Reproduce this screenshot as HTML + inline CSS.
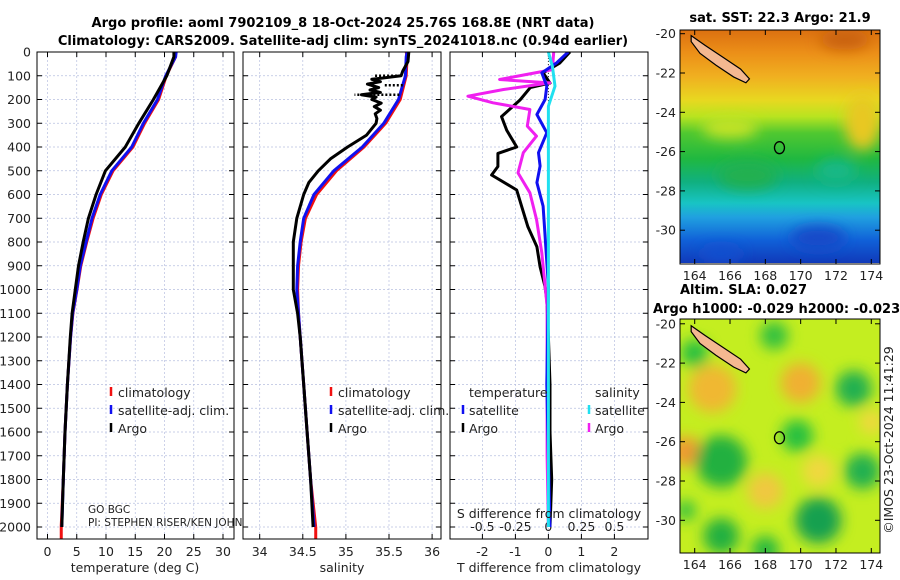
<!DOCTYPE html>
<html><head><meta charset="utf-8"><style>
body{margin:0;background:#fff;}
svg{display:block;font-family:"DejaVu Sans","Liberation Sans",sans-serif;}
.t{font-size:12.5px;fill:#222;}
.b{font-size:13px;font-weight:bold;fill:#000;}
</style></head><body>
<svg id="c" width="900" height="580" viewBox="0 0 900 580">
<defs>
<linearGradient id="sstg" x1="0" y1="0" x2="0" y2="1">
<stop offset="0" stop-color="#dc7010"/><stop offset="0.1" stop-color="#ec9018"/>
<stop offset="0.2" stop-color="#f0b020"/><stop offset="0.3" stop-color="#e8d820"/>
<stop offset="0.37" stop-color="#b8e420"/><stop offset="0.44" stop-color="#50c830"/>
<stop offset="0.55" stop-color="#20b840"/><stop offset="0.65" stop-color="#10b080"/>
<stop offset="0.74" stop-color="#18c4c4"/><stop offset="0.8" stop-color="#20a0e0"/>
<stop offset="0.9" stop-color="#1060d8"/><stop offset="1" stop-color="#1038b8"/></linearGradient>
<filter id="bl"><feGaussianBlur stdDeviation="7"/></filter>
<clipPath id="cm1"><rect x="680" y="30" width="200" height="233"/></clipPath>
<clipPath id="cm2"><rect x="680" y="319" width="200" height="234"/></clipPath>
<clipPath id="cp1"><rect x="37" y="52" width="197" height="487"/></clipPath>
<clipPath id="cp2"><rect x="243" y="52" width="198" height="487"/></clipPath>
<clipPath id="cp3"><rect x="450" y="52" width="198" height="487"/></clipPath>
</defs>
<text class="b" x="343" y="27" text-anchor="middle">Argo profile: aoml 7902109_8 18-Oct-2024 25.76S 168.8E (NRT data)</text>
<text class="b" x="343" y="45" text-anchor="middle">Climatology: CARS2009. Satellite-adj clim: synTS_20241018.nc (0.94d earlier)</text>
<g id="g"></g>
<text class="t" x="893" y="440" transform="rotate(-90 893 440)" text-anchor="middle">©IMOS 23-Oct-2024 11:41:29</text>
</svg>
<script>
const depths=[0,20,100,200,300,400,500,600,700,800,900,1000,1100,1200,1400,1600,1800,2000];
const tempArgo=[21.6,21.6,20.4,18.1,15.6,13.3,9.9,8.3,7.0,6.1,5.3,4.75,4.2,3.9,3.4,3.0,2.7,2.45];
const tempClim=[21.8,21.9,20.3,19.0,16.6,14.6,11.2,9.2,7.8,6.7,5.7,5.05,4.35,3.95,3.4,3.0,2.7,2.35];
const tempSat=[22.0,21.9,20.2,18.8,16.4,14.4,11.0,9.0,7.6,6.6,5.6,5.0,4.3,3.95,3.4,3.0,2.7,2.45];
const salClim=[35.70,35.71,35.70,35.63,35.46,35.21,34.89,34.66,34.53,34.48,34.45,34.44,34.45,34.47,34.51,34.55,34.59,34.65];
const salSat=[35.71,35.70,35.69,35.61,35.44,35.19,34.86,34.63,34.51,34.47,34.44,34.43,34.45,34.47,34.51,34.55,34.59,34.63];
const salArgoDepths=[0,40,80,100,115,125,135,150,160,170,180,190,200,215,230,245,260,280,300,350,400,450,500,550,600,700,800,900,1000,1100,1200,1400,1600,1800,2000];
const salArgo=[35.73,35.72,35.66,35.64,35.30,35.40,35.25,35.38,35.28,35.40,35.18,35.35,35.30,35.41,35.33,35.40,35.34,35.36,35.35,35.24,35.02,34.82,34.68,34.57,34.51,34.43,34.39,34.39,34.39,34.44,34.47,34.51,34.55,34.59,34.62];
const tdArgoDepths=[0,46,88,131,150,202,272,330,400,427,482,518,581,651,736,820,905,989,1044,1200,1400,1600,1800,2000];
const tDiffArgo=[0.65,0.35,-0.16,0.05,-0.55,-0.86,-1.42,-1.26,-0.96,-1.53,-1.53,-1.72,-0.96,-0.81,-0.62,-0.35,-0.25,-0.1,-0.05,0.0,0.05,0.05,0.1,0.05];
const sdArgoDepths=[0,74,116,130,158,186,214,242,312,354,424,509,593,705,845,1070,1400,1700,2000];
const sDiffArgo=[0.04,0.03,-0.37,0.01,-0.34,-0.61,-0.42,-0.14,-0.16,-0.09,-0.19,-0.23,-0.14,-0.09,-0.05,-0.01,-0.01,-0.01,0.0];
const tdSatDepths=[0,46,88,144,200,263,340,424,480,550,649,775,986,1400,2000];
const tDiffSat=[0.6,0.25,-0.2,-0.05,-0.1,-0.35,-0.05,-0.3,-0.25,-0.35,-0.16,-0.1,0.0,-0.05,0.05];
const sdSatDepths=[0,60,144,228,424,800,1400,2000];
const sDiffSat=[0.0,0.03,0.05,0.0,0.0,0.0,0.0,0.0];
const depthTicks=[0,100,200,300,400,500,600,700,800,900,1000,1100,1200,1300,1400,1500,1600,1700,1800,1900,2000];
const tempTicks=[0,5,10,15,20,25,30];
const salTicks=[34,34.5,35,35.5,36];
const tdTicks=[-2,-1,0,1,2];
const sdTicks=[-0.5,-0.25,0,0.25,0.5];
const sdLabels=["-0.5","-0.25","0","0.25","0.5"];
const lonTicks=[164,166,168,170,172,174];
const latTicks=[-20,-22,-24,-26,-28,-30];

const NS='http://www.w3.org/2000/svg';
const G=document.getElementById('g');
function mk(tag,at,par){const e=document.createElementNS(NS,tag);for(const k in at)e.setAttribute(k,at[k]);(par||G).appendChild(e);return e;}
const Y=d=>52+d*0.2375;
const xT=t=>47.5+t*5.85;
const xS=s=>259.7+(s-34)*86.2;
const xTD=v=>548.4+v*33;
const xSD=v=>548.4+v*132;
const P=[{x:37,w:197},{x:243,w:198},{x:450,w:198}];

P.forEach((p,i)=>{
  depthTicks.forEach(d=>{
    const l=mk('line',{x1:p.x,x2:p.x+p.w,y1:Y(d),y2:Y(d),stroke:'#b8c0e0','stroke-width':0.7,'stroke-dasharray':'2,2'});
    
    
    mk('line',{x1:p.x,x2:p.x+5,y1:Y(d),y2:Y(d),stroke:'#000'});
    mk('line',{x1:p.x+p.w-5,x2:p.x+p.w,y1:Y(d),y2:Y(d),stroke:'#000'});
  });
});
depthTicks.forEach(d=>{
  const t=mk('text',{x:31,y:Y(d)+4.5,'text-anchor':'end',class:'t'});t.textContent=d;
  
  
});
function xgrid(ticks,fx,p,labels,ly){
  ticks.forEach((v,i)=>{
    const x=fx(v);
    const l=mk('line',{x1:x,x2:x,y1:52,y2:539,stroke:'#b8c0e0','stroke-width':0.7,'stroke-dasharray':'2,2'});
    
    
    mk('line',{x1:x,x2:x,y1:534,y2:539,stroke:'#000'});
    mk('line',{x1:x,x2:x,y1:52,y2:57,stroke:'#000'});
    const t=mk('text',{x:x,y:ly,'text-anchor':'middle',class:'t'});t.textContent=labels?labels[i]:v;
    
    
  });
}
xgrid(tempTicks,xT,P[0],null,556);
xgrid(salTicks,xS,P[1],null,556);
xgrid(tdTicks,xTD,P[2],null,556);
sdTicks.forEach((v,i)=>{
  const t=mk('text',{x:xSD(v),y:531,'text-anchor':'middle',class:'t'});t.textContent=sdLabels[i];
  
  
});
mk('line',{x1:xTD(0),x2:xTD(0),y1:Y(0),y2:Y(1000),stroke:'#333','stroke-width':1,'stroke-dasharray':'1,2'});

function line(dep,vals,fx,col,w,clip,name,dash){
  const pts=vals.map((v,i)=>fx(v).toFixed(1)+','+Y(dep[i]).toFixed(1)).join(' ');
  const at={points:pts,fill:'none',stroke:col,'stroke-width':w,'clip-path':'url(#'+clip+')','stroke-linejoin':'round'};
  if(dash)at['stroke-dasharray']=dash;
  const e=mk('polyline',at);
  
  
}
line(depths,tempClim,xT,'#f01010',3,'cp1','temp-climatology-line');
line(depths,tempSat,xT,'#1010f0',3,'cp1','temp-satellite-line');
line(depths,tempArgo,xT,'#000',3,'cp1','temp-argo-line');
line(depths,salClim,xS,'#f01010',3,'cp2','sal-climatology-line');
line(depths,salSat,xS,'#1010f0',3,'cp2','sal-satellite-line');
line(salArgoDepths,salArgo,xS,'#000',3,'cp2','sal-argo-line');
// dotted connectors for flagged salinity spikes
[[100,35.64,35.32],[140,35.66,35.45],[180,35.62,35.10]].forEach(s=>{
  const e=mk('line',{x1:xS(s[1]),x2:xS(s[2]),y1:Y(s[0]),y2:Y(s[0]),stroke:'#000','stroke-width':2.5,'stroke-dasharray':'2,2'});
  
  
});
line(tdArgoDepths,tDiffArgo,xTD,'#000',3,'cp3','tdiff-argo-line');
line(sdArgoDepths,sDiffArgo,xSD,'#f020f0',3,'cp3','sdiff-argo-line');
line(tdSatDepths,tDiffSat,xTD,'#1010f0',3,'cp3','tdiff-satellite-line');
line(sdSatDepths,sDiffSat,xSD,'#20e0f0',3,'cp3','sdiff-satellite-line');
mk('line',{x1:xT(2.35),x2:xT(2.35),y1:Y(2000),y2:539,stroke:'#f01010','stroke-width':3});
mk('line',{x1:xS(34.65),x2:xS(34.65),y1:Y(2000),y2:539,stroke:'#f01010','stroke-width':3});

P.forEach(p=>{const r=mk('rect',{x:p.x,y:52,width:p.w,height:487,fill:'none',stroke:'#000','stroke-width':1});
  });

function lab(x,y,s,anchor,name){const t=mk('text',{x:x,y:y,class:'t','text-anchor':anchor||'start'});t.textContent=s;
  return t;}
lab(135,572,'temperature (deg C)','middle','temp-axis-title');
lab(342,572,'salinity','middle','salinity-axis-title');
lab(549,572,'T difference from climatology','middle','tdiff-axis-title');
lab(549,518,'S difference from climatology','middle','sdiff-axis-title');
const g1=lab(88,513,'GO BGC','start','program-label');g1.style.fontSize='10.5px';
const g2=lab(88,526,'PI: STEPHEN RISER/KEN JOHN','start','pi-label');g2.style.fontSize='10.5px';

function leg(mx,tx,y,col,s,name){
  mk('line',{x1:mx,x2:mx,y1:y-6,y2:y+3,stroke:col,'stroke-width':2.5});
  lab(tx,y+4,s,'start',name);
}
leg(111,118,393,'#f01010','climatology','legend-climatology');
leg(111,118,411,'#1010f0','satellite-adj. clim.','legend-satellite');
leg(111,118,429,'#000','Argo','legend-argo');
leg(331,338,393,'#f01010','climatology','legend-sal-climatology');
leg(331,338,411,'#1010f0','satellite-adj. clim.','legend-sal-satellite');
leg(331,338,429,'#000','Argo','legend-sal-argo');
lab(469,397,'temperature','start','legend-temperature-header');
leg(463,469,411,'#1010f0','satellite','legend-tdiff-satellite');
leg(463,469,429,'#000','Argo','legend-tdiff-argo');
lab(595,397,'salinity','start','legend-salinity-header');
leg(589,595,411,'#20e0f0','satellite','legend-sdiff-satellite');
leg(589,595,429,'#f020f0','Argo','legend-sdiff-argo');

const mX=lon=>694.7+(lon-164)*17.66;
function map(top,latOff,clip,kind){
  const mY=lat=>latOff+(-20-lat)*19.65;
  const grp=mk('g',{'clip-path':'url(#'+clip+')'});
  
  
  if(kind==='sst'){
    mk('rect',{x:680,y:top,width:200,height:234,fill:'url(#sstg)'},grp);
    const bg=mk('g',{filter:'url(#bl)'},grp);
    mk('ellipse',{cx:mX(173.5),cy:mY(-24.5),rx:18,ry:28,fill:'#e8c820'},bg);
    mk('ellipse',{cx:mX(166),cy:mY(-24.8),rx:28,ry:10,fill:'#c8e428'},bg);
    mk('ellipse',{cx:mX(167),cy:mY(-27.2),rx:30,ry:14,fill:'#20b050'},bg);
    mk('ellipse',{cx:mX(172),cy:mY(-27.0),rx:20,ry:12,fill:'#18b888'},bg);
    mk('ellipse',{cx:mX(171),cy:mY(-30.4),rx:28,ry:12,fill:'#1848c8'},bg);
    mk('ellipse',{cx:mX(165.5),cy:mY(-31.2),rx:22,ry:8,fill:'#1850d0'},bg);
    mk('ellipse',{cx:mX(172.5),cy:mY(-20.3),rx:25,ry:10,fill:'#c86010'},bg);
  } else {
    mk('rect',{x:680,y:top,width:200,height:234,fill:'#c4ee20'},grp);
    const bg=mk('g',{filter:'url(#bl)'},grp);
    [[165,-23.3,'#f0b830',24],[170,-23,'#f0b030',20],[163.5,-26.5,'#f09830',15],[168,-28.5,'#f0c840',18],[171,-27.5,'#f0d840',16],[174,-25,'#f0d840',12]].forEach(b=>mk('circle',{cx:mX(b[0]),cy:mY(b[1]),r:b[3],fill:b[2]},bg));
    [[165.5,-27,'#20b040',26],[173,-23.3,'#20b050',18],[173.5,-27.5,'#20b050',18],[171,-30,'#18a050',23],[165.5,-30.8,'#20b040',18],[169.8,-25.7,'#28c040',16],[164,-21.5,'#28c040',14],[168.5,-20.6,'#30c040',14],[168,-31.5,'#28b840',14],[163.5,-29.5,'#30c040',10]].forEach(b=>mk('circle',{cx:mX(b[0]),cy:mY(b[1]),r:b[3],fill:b[2]},bg));
  }
  mk('polygon',{points:[[163.8,-20.1],[164.6,-20.6],[165.6,-21.2],[166.6,-21.8],[167.1,-22.3],[166.9,-22.5],[166.2,-22.2],[165.2,-21.6],[164.3,-21],[163.8,-20.4]].map(p=>mX(p[0])+','+mY(p[1])).join(' '),fill:'#f4b890',stroke:'#000','stroke-width':1.2},grp);
  const c=mk('ellipse',{cx:mX(168.8),cy:mY(-25.8),rx:5,ry:6,fill:'none',stroke:'#000','stroke-width':1.3},grp);
  
  
  mk('rect',{x:680,y:top,width:200,height:234,fill:'none',stroke:'#000'});
  lonTicks.forEach(l=>{mk('line',{x1:mX(l),x2:mX(l),y1:top+229,y2:top+234,stroke:'#000'});mk('line',{x1:mX(l),x2:mX(l),y1:top,y2:top+5,stroke:'#000'});
    lab(mX(l),top+250,String(l),'middle','map-lon-tick');});
  latTicks.forEach(l=>{mk('line',{x1:680,x2:685,y1:mY(l),y2:mY(l),stroke:'#000'});mk('line',{x1:875,x2:880,y1:mY(l),y2:mY(l),stroke:'#000'});
    lab(676,mY(l)+4.5,String(l),'end','map-lat-tick');});
}
map(30,33.7,'cm1','sst');
map(319,323.8,'cm2','sla');
const s1=mk('text',{x:780,y:22,class:'b','text-anchor':'middle'});s1.textContent='sat. SST: 22.3 Argo: 21.9';

const s2=mk('text',{x:680,y:294,class:'b'});s2.textContent='Altim. SLA: 0.027';

const s3=mk('text',{x:653,y:313,class:'b'});s3.textContent='Argo h1000: -0.029 h2000: -0.023';

</script>
</body></html>
